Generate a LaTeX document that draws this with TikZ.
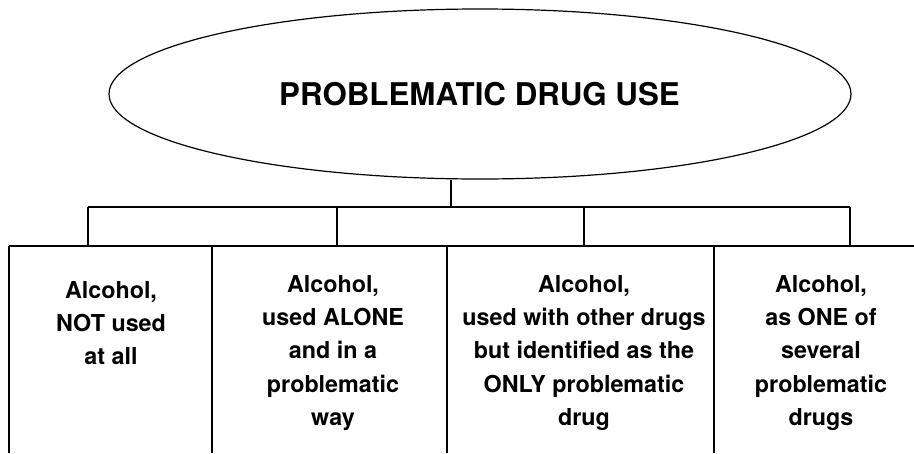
\documentclass[tikz,border=0pt]{standalone}
\usepackage{fontspec}
\setmainfont{TeX Gyre Heros}
\usetikzlibrary{shapes.geometric}
\begin{document}
\begin{tikzpicture}[x=1pt,y=-1pt,
  line/.style={line width=1.3pt, black},
  cell/.style={align=center, inner sep=0pt, anchor=north,
    font=\fontsize{23.3}{33.3}\selectfont\bfseries},
  oval/.style={ellipse, draw, line width=1.2pt, minimum width=742pt, minimum height=170pt, inner sep=0pt},
  titletext/.style={inner sep=0pt, font=\fontsize{31.3}{36}\selectfont\bfseries}]
\useasboundingbox (0,0) rectangle (914,453);
\node[oval] (top) at (480,94) {};
\node[titletext] (ttl) at (479.5,94.5) {PROBLEMATIC DRUG USE};
\coordinate (hub) at (451,207);
\coordinate (d1) at (88,207);
\coordinate (d2) at (337,207);
\coordinate (d3) at (584,207);
\coordinate (d4) at (850,207);
\coordinate (tl) at (9,246);
\coordinate (tr) at (914,246);
% table
\draw[line] (tl) -- (tr);
\draw[line] (9,246) -- (9,453);
\draw[line] (212,246) -- (212,453);
\draw[line] (447,246) -- (447,453);
\draw[line] (714,246) -- (714,453);
% connectors
\draw[line] (top.south -| hub) -- (hub);
\draw[line] (d1) -- (d4);
\draw[line] (d1) -- (d1 |- tl);
\draw[line] (d2) -- (d2 |- tl);
\draw[line] (d3) -- (d3 |- tl);
\draw[line] (d4) -- (d4 |- tl);
% texts
\node[cell] (c1) at (111,281) {Alcohol,\\NOT used\\at all};
\node[cell] (c2) at (333,275) {Alcohol,\\used ALONE\\and in a\\problematic\\way};
\node[cell] (c3) at (584,275) {Alcohol,\\used with other drugs\\but identified as the\\ONLY problematic\\drug};
\node[cell] (c4) at (821,275) {Alcohol,\\as ONE of\\several\\problematic\\drugs};
\end{tikzpicture}
\end{document}
